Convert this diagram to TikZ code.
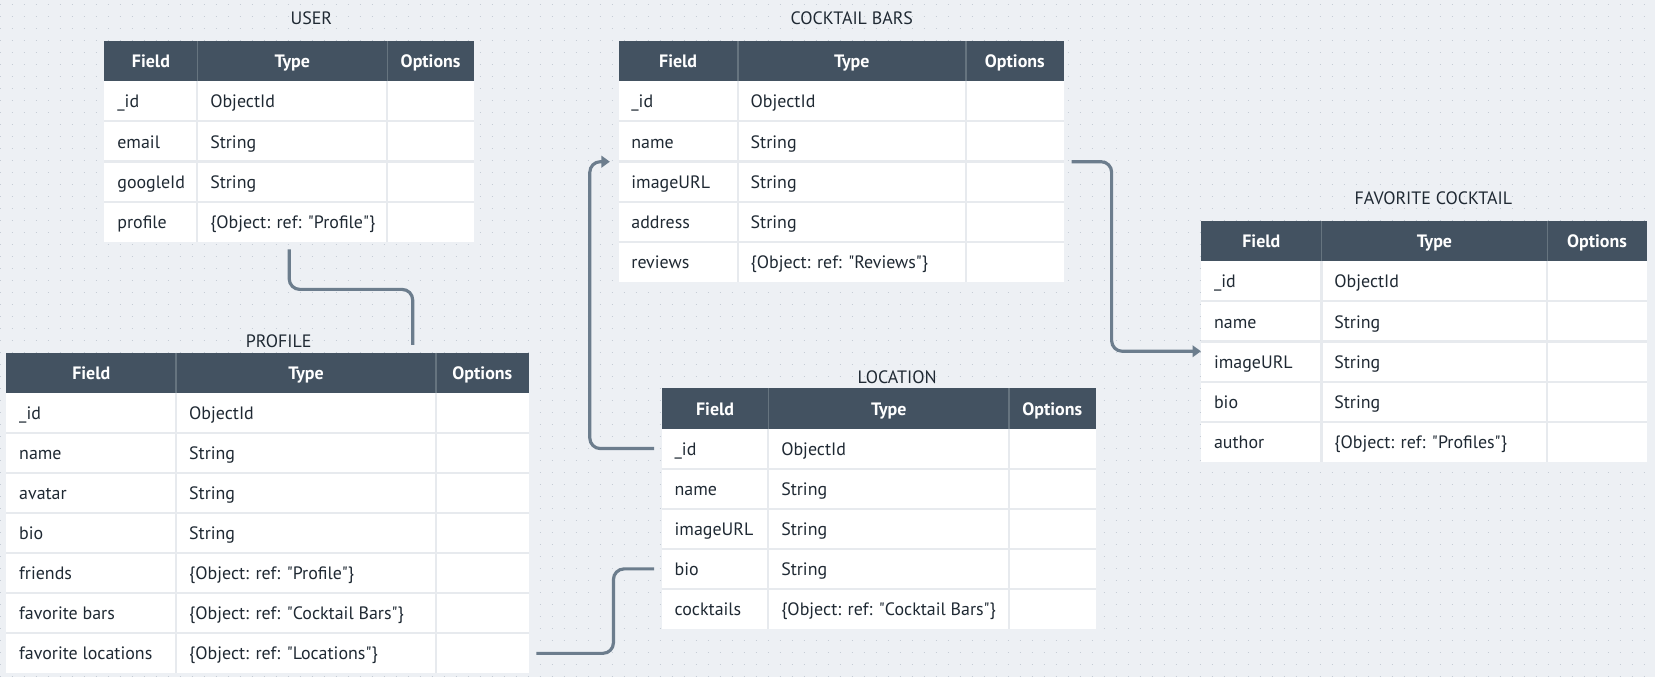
\documentclass[tikz,border=0pt]{standalone}
\usepackage{fontspec}
\setmainfont{PT Sans}
\usetikzlibrary{arrows.meta}

\definecolor{canvas}{HTML}{EDF0F4}
\definecolor{dotgray}{HTML}{C5CCD5}
\definecolor{headfill}{HTML}{435261}
\definecolor{headline}{HTML}{66747F}
\definecolor{rowline}{HTML}{E7EAEE}
\definecolor{inktext}{HTML}{1F2933}
\definecolor{linkgray}{HTML}{6C7D8D}

\tikzset{
	tablebox/.style={fill=white, inner sep=0pt},
	headbox/.style={fill=headfill, inner sep=0pt, minimum height=38},
	rowbox/.style={fill=white, inner sep=0pt, minimum height=38},
	headtext/.style={text=white, inner sep=0pt, font=\fontsize{17}{20}\selectfont\bfseries, text height=12.6pt, text depth=0pt},
	celltext/.style={text=inktext, inner sep=0pt, anchor=west, font=\fontsize{17}{20}\selectfont, text height=12.6pt, text depth=0pt},
	tabletitle/.style={text=inktext, inner sep=0pt, font=\fontsize{17}{20}\selectfont, text height=12.6pt, text depth=0pt},
	headsep/.style={draw=headline, line width=1.5pt},
	bodysep/.style={draw=rowline, line width=2pt},
	dotrow/.style={draw=dotgray, line width=1.4pt, dash pattern=on 1.4pt off 9.97pt},
	link/.style={draw=linkgray, line width=3pt, rounded corners=10pt},
	linktip/.style={-{Triangle[length=8pt,width=11pt]}}
}

\begin{document}
\begin{tikzpicture}[x=1pt, y=-1pt]
		\useasboundingbox (0,0) rectangle (1568,641.4);
		\fill[canvas] (0,0) rectangle (1568,641.4);
		\foreach \j in {0, ..., 56}
			\draw[dotrow] (-0.4,\j*11.37+4.1) -- (1568,\j*11.37+4.1);

		% user
		\node[tablebox, minimum width=350, minimum height=190] (user) at (274,134) {};
		\node[tabletitle] (user-title) at (295,17) {USER};
		\node[headbox, minimum width=350] (user-h) at (274,58) {};
		\foreach \x/\t [count=\k] in {143/Field, 277/Type, 408/Options}
			\node[headtext] (user-h\k) at (\x,58) {\t};
		\foreach \f/\t [count=\i] in {\_id/ObjectId, email/String, googleId/String, profile/{\{Object: ref: \textquotedbl Profile\textquotedbl\}}}
		{
			\node[rowbox, minimum width=350] (user-\i) at (274,58+38*\i) {};
			\node[celltext] (user-f\i) at (111,58+38*\i) {\f};
			\node[celltext] (user-t\i) at (199,58+38*\i) {\t};
		}
		\draw[headsep] (187,39) -- (187,77) (367,39) -- (367,77);
		\draw[bodysep] (187,77) -- (187,229) (367,77) -- (367,229);
		\foreach \i in {1, ..., 3}
			\draw[bodysep] (99,77+38*\i) -- (449,77+38*\i);

		% profile
		\node[tablebox, minimum width=495, minimum height=304] (profile) at (253.5,486) {};
		\node[tabletitle] (profile-title) at (264,323) {PROFILE};
		\node[headbox, minimum width=495] (profile-h) at (253.5,353) {};
		\foreach \x/\t [count=\k] in {86.5/Field, 290/Type, 457/Options}
			\node[headtext] (profile-h\k) at (\x,353) {\t};
		\foreach \f/\t [count=\i] in {\_id/ObjectId, name/String, avatar/String, bio/String, friends/{\{Object: ref: \textquotedbl Profile\textquotedbl\}}, favorite bars/{\{Object: ref: \textquotedbl Cocktail Bars\textquotedbl\}}, favorite locations/{\{Object: ref: \textquotedbl Locations\textquotedbl\}}}
		{
			\node[rowbox, minimum width=495] (profile-\i) at (253.5,353+38*\i) {};
			\node[celltext] (profile-f\i) at (18,353+38*\i) {\f};
			\node[celltext] (profile-t\i) at (179,353+38*\i) {\t};
		}
		\draw[headsep] (167,334) -- (167,372) (413,334) -- (413,372);
		\draw[bodysep] (167,372) -- (167,638) (413,372) -- (413,638);
		\foreach \i in {1, ..., 6}
			\draw[bodysep] (6,372+38*\i) -- (501,372+38*\i);

		% cocktail bars
		\node[tablebox, minimum width=422, minimum height=228] (bars) at (797,153) {};
		\node[tabletitle] (bars-title) at (807,17) {COCKTAIL BARS};
		\node[headbox, minimum width=422] (bars-h) at (797,58) {};
		\foreach \x/\t [count=\k] in {642.5/Field, 807/Type, 961.5/Options}
			\node[headtext] (bars-h\k) at (\x,58) {\t};
		\foreach \f/\t [count=\i] in {\_id/ObjectId, name/String, imageURL/String, address/String, reviews/{\{Object: ref: \textquotedbl Reviews\textquotedbl\}}}
		{
			\node[rowbox, minimum width=422] (bars-\i) at (797,58+38*\i) {};
			\node[celltext] (bars-f\i) at (598,58+38*\i) {\f};
			\node[celltext] (bars-t\i) at (711,58+38*\i) {\t};
		}
		\draw[headsep] (699,39) -- (699,77) (915,39) -- (915,77);
		\draw[bodysep] (699,77) -- (699,267) (915,77) -- (915,267);
		\foreach \i in {1, ..., 4}
			\draw[bodysep] (586,77+38*\i) -- (1008,77+38*\i);

		% location
		\node[tablebox, minimum width=411, minimum height=228] (loc) at (832.5,482) {};
		\node[tabletitle] (loc-title) at (850,357) {LOCATION};
		\node[headbox, minimum width=411] (loc-h) at (832.5,387) {};
		\foreach \x/\t [count=\k] in {677.5/Field, 842/Type, 997/Options}
			\node[headtext] (loc-h\k) at (\x,387) {\t};
		\foreach \f/\t [count=\i] in {\_id/ObjectId, name/String, imageURL/String, bio/String, cocktails/{\{Object: ref: \textquotedbl Cocktail Bars\textquotedbl\}}}
		{
			\node[rowbox, minimum width=411] (loc-\i) at (832.5,387+38*\i) {};
			\node[celltext] (loc-f\i) at (639,387+38*\i) {\f};
			\node[celltext] (loc-t\i) at (740,387+38*\i) {\t};
		}
		\draw[headsep] (728,368) -- (728,406) (956,368) -- (956,406);
		\draw[bodysep] (728,406) -- (728,596) (956,406) -- (956,596);
		\foreach \i in {1, ..., 4}
			\draw[bodysep] (627,406+38*\i) -- (1038,406+38*\i);

		% favorite cocktail
		\node[tablebox, minimum width=422, minimum height=228] (fav) at (1349,323.5) {};
		\node[tabletitle] (fav-title) at (1358,187) {FAVORITE COCKTAIL};
		\node[headbox, minimum width=422] (fav-h) at (1349,228.5) {};
		\foreach \x/\t [count=\k] in {1195/Field, 1359/Type, 1513/Options}
			\node[headtext] (fav-h\k) at (\x,228.5) {\t};
		\foreach \f/\t [count=\i] in {\_id/ObjectId, name/String, imageURL/String, bio/String, author/{\{Object: ref: \textquotedbl Profiles\textquotedbl\}}}
		{
			\node[rowbox, minimum width=422] (fav-\i) at (1349,228.5+38*\i) {};
			\node[celltext] (fav-f\i) at (1150,228.5+38*\i) {\f};
			\node[celltext] (fav-t\i) at (1264,228.5+38*\i) {\t};
		}
		\draw[headsep] (1252,209.5) -- (1252,247.5) (1466,209.5) -- (1466,247.5);
		\draw[bodysep] (1252,247.5) -- (1252,437.5) (1466,247.5) -- (1466,437.5);
		\foreach \i in {1, ..., 4}
			\draw[bodysep] (1138,247.5+38*\i) -- (1560,247.5+38*\i);

		% links
		\draw[link] ([yshift=-7pt]user.south) -- ++(0,38) -| ([xshift=137.5pt,yshift=7pt]profile.north);
		\draw[link, linktip] ([xshift=7pt]bars-2.south east) -- ++(38,0) |- ([yshift=-9.5pt]fav-3.north west);
		\draw[link, linktip] ([xshift=-7pt]loc-1.west) -- ++(-61,0) |- ([xshift=-8pt]bars-2.south west);
		\draw[link] ([xshift=7pt]profile-7.east) -- ++(73,0) |- ([xshift=-7pt]loc-4.west);
	\end{tikzpicture}
\end{document}
